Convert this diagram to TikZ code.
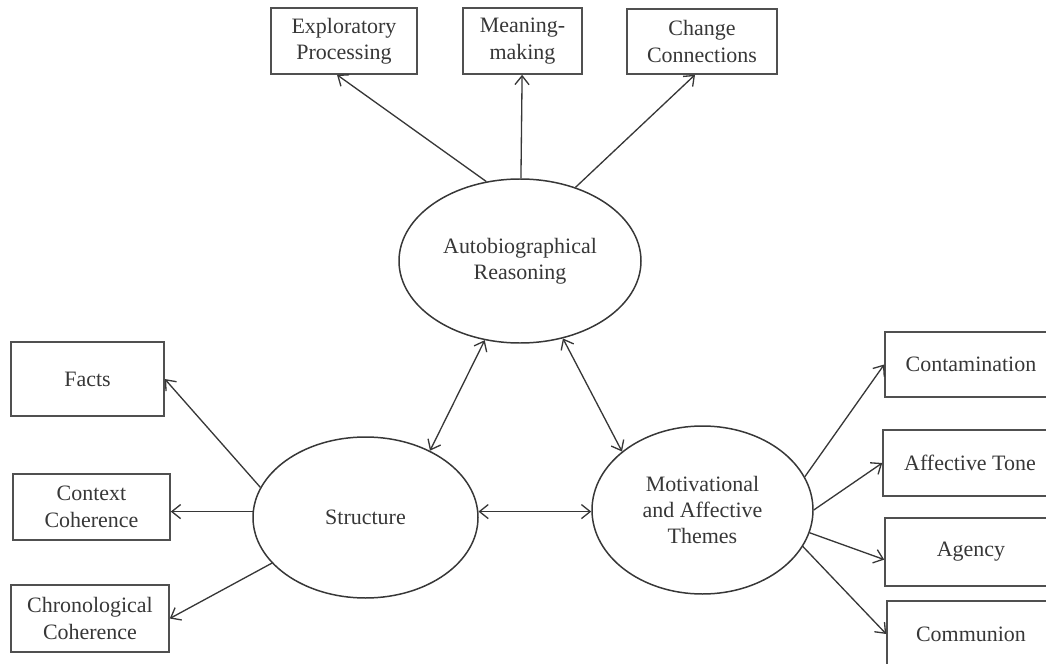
\documentclass[tikz,border=0pt]{standalone}
\usepackage{fontspec}
\setmainfont{Liberation Serif}
\usepackage{xcolor}
\definecolor{inkgrey}{RGB}{55, 55, 55}
\definecolor{boxgrey}{RGB}{80, 80, 80}
\usetikzlibrary{
  arrows.meta,
  positioning,
  shapes.geometric
}

\begin{document}
\begin{tikzpicture}[
  latent/.style={ellipse, draw=inkgrey, line width=0.85pt, inner sep=0pt, align=center,
    text=inkgrey, font=\fontsize{12.5}{15}\selectfont},
  indicator/.style={rectangle, draw=boxgrey, line width=0.9pt, inner sep=0pt, align=center,
    minimum height=1.32cm, text=inkgrey, font=\fontsize{12.5}{15}\selectfont},
  loading/.style={draw=inkgrey, line width=0.75pt, -{Straight Barb[length=5pt, width=8pt]}},
  covar/.style={draw=inkgrey, line width=0.75pt,
    {Straight Barb[length=5pt, width=8pt]}-{Straight Barb[length=5pt, width=8pt]}}
]

  \clip (0, 0) rectangle (20.92, -13.28);

  % ---------- latent constructs ----------
  \node[latent, minimum width=4.84cm, minimum height=3.28cm] (auto) at (10.4, -5.22) {Autobiographical\\Reasoning};
  \node[latent, minimum width=4.5cm, minimum height=3.22cm] (struct) at (7.31, -10.35) {Structure};
  \node[latent, minimum width=4.42cm, minimum height=3.36cm] (motiv) at (14.05, -10.2) {Motivational\\and Affective\\Themes};

  % ---------- top indicators ----------
  \node[indicator, minimum width=2.92cm] (expl) at (6.88, -0.82) {Exploratory\\Processing};
  \node[indicator, minimum width=2.38cm] (mean) at (10.45, -0.82) {Meaning-\\making};
  \node[indicator, minimum width=3.0cm, minimum height=1.3cm] (chng) at (14.04, -0.83) {Change\\Connections};

  % ---------- left indicators ----------
  \node[indicator, minimum width=3.06cm, minimum height=1.48cm] (facts) at (1.75, -7.58) {Facts};
  \node[indicator, minimum width=3.14cm] (ctx) at (1.83, -10.14) {Context\\Coherence};
  \node[indicator, minimum width=3.16cm, minimum height=1.34cm] (chron) at (1.8, -12.37) {Chronological\\Coherence};

  % ---------- right indicators ----------
  \node[indicator, minimum width=3.44cm, minimum height=1.3cm] (contam) at (19.42, -7.29) {Contamination};
  \node[indicator, minimum width=3.48cm] (tone) at (19.40, -9.26) {Affective Tone};
  \node[indicator, minimum width=3.44cm, minimum height=1.36cm] (agency) at (19.42, -11.04) {Agency};
  \node[indicator, minimum width=3.36cm] (commun) at (19.42, -12.68) {Communion};

  % loadings
  \draw[loading] (auto.113) -- ([xshift=-0.14cm]expl.south);
  \draw[loading] (auto) -- (mean);
  \draw[loading] (auto.53) -- ([xshift=-0.14cm]chng.south);

  \draw[loading] (struct.164) -- (facts.east);
  \draw[loading] (struct.177) -- (ctx.east |- struct.177);
  \draw[loading] (struct.206) -- (chron.east);

  \draw[loading] (motiv.18) -- (contam.west);
  \draw[loading] (motiv.east) -- (tone.west);
  \draw[loading] (motiv.348) -- (agency.185);
  \draw[loading] (motiv.340) -- (commun.west);

  % correlations between constructs
  \draw[covar] (struct.46) -- (auto.246);
  \draw[covar] (auto.299) -- (motiv.144);
  \draw[covar] (struct.3) -- (motiv.west |- struct.3);

\end{tikzpicture}
\end{document}
